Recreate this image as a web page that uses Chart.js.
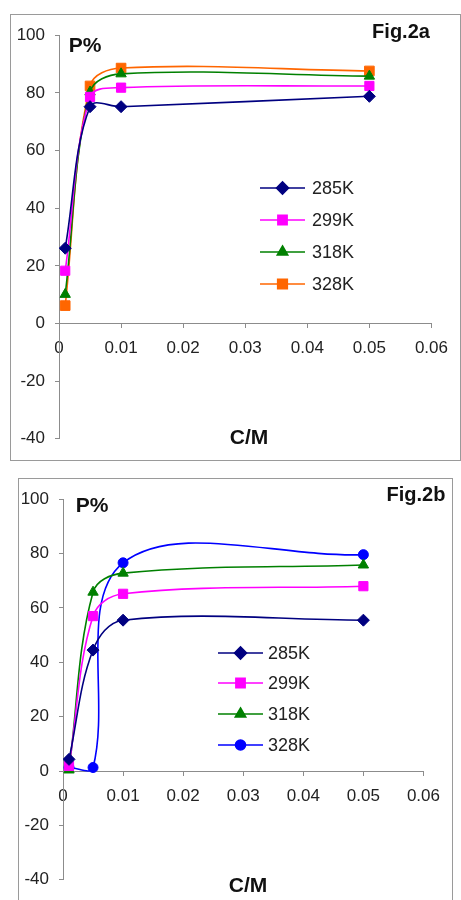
<!DOCTYPE html>
<html>
<head>
<meta charset="utf-8">
<script src="https://cdn.jsdelivr.net/npm/chart.js"></script>
<style>
  body { margin: 0; background: #fff; overflow: hidden; }
  .box { position: absolute; border: 1px solid #9a9a9a; box-sizing: border-box; }
  canvas { position: absolute; }
</style>
</head>
<body>
<div class="box" style="left:10px; top:14px; width:451px; height:447px;"></div>
<canvas id="fig2a" width="448" height="444" style="left:11px; top:15px;"></canvas>
<div class="box" style="left:18px; top:478px; width:435px; height:440px;"></div>
<canvas id="fig2b" width="432" height="421" style="left:19px; top:479px;"></canvas>
<script>
const concentrations = [0.001, 0.005, 0.01, 0.05];
const temperatures = ['285K', '299K', '318K', '328K'];
const xTicks = [0, 0.01, 0.02, 0.03, 0.04, 0.05, 0.06];
const yTicks = [-40, -20, 0, 20, 40, 60, 80, 100];

// Fig.2a
const fig2a285 = [26.1, 75.2, 75.2, 78.8];
const fig2a299 = [18.3, 78.6, 81.8, 82.4];
const fig2a318 = [10.1, 80.3, 86.6, 85.8];
const fig2a328 = [6.2, 82.4, 88.6, 87.6];

// Fig.2b
const fig2b285 = [4.3, 44.5, 55.5, 55.5];
const fig2b299 = [1.9, 57.0, 65.2, 68.0];
const fig2b318 = [0.4, 65.8, 72.8, 75.8];
const fig2b328 = [1.3, 1.3, 76.6, 79.6];

const fontName = "'Liberation Sans', Arial, sans-serif";

function points(values) {
    return values.map((v, i) => ({x: concentrations[i], y: v}));
}

function makeDataset(label, values, color, style, radius) {
    return {
        label: label,
        data: points(values),
        borderColor: color,
        backgroundColor: color,
        borderWidth: 1.6,
        pointStyle: style,
        pointRadius: radius,
        pointBorderWidth: 1,
        pointBorderColor: color,
        pointBackgroundColor: color,
        tension: 0.36,
        fill: false
    };
}

// draws the in-plot legend and the free text labels
function annotations(cfg) {
    return {
        id: 'annotations',
        afterDraw(chart) {
            const ctx = chart.ctx;
            ctx.save();
            ctx.fillStyle = '#111';
            ctx.textBaseline = 'middle';
            ctx.textAlign = 'center';
            ctx.font = 'bold 20px ' + fontName;
            ctx.fillText(cfg.fig, cfg.figPos[0], cfg.figPos[1]);
            ctx.font = 'bold 21px ' + fontName;
            ctx.fillText('P%', cfg.pPos[0], cfg.pPos[1]);
            ctx.fillText('C/M', cfg.cPos[0], cfg.cPos[1]);

            ctx.textAlign = 'left';
            ctx.font = '18px ' + fontName;
            chart.data.datasets.forEach((ds, i) => {
                const y = cfg.legendRows[i];
                ctx.strokeStyle = ds.borderColor;
                ctx.lineWidth = 1.6;
                ctx.beginPath();
                ctx.moveTo(cfg.legendX[0], y);
                ctx.lineTo(cfg.legendX[1], y);
                ctx.stroke();
                ctx.fillStyle = ds.borderColor;
                Chart.helpers.drawPoint(ctx, {
                    pointStyle: ds.pointStyle,
                    radius: ds.pointRadius,
                    borderWidth: 1,
                    rotation: 0
                }, (cfg.legendX[0] + cfg.legendX[1]) / 2, y);
                ctx.fillStyle = '#222';
                ctx.fillText(ds.label, cfg.legendX[2], y + 1);
            });
            ctx.restore();
        }
    };
}

function makeChart(canvasId, datasets, area, cfg) {
    const canvas = document.querySelector(canvasId);
    new Chart(canvas.getContext('2d'), {
        type: 'line',
        data: { datasets: datasets },
        options: {
            responsive: false,
            animation: false,
            layout: { padding: area.padding },
            plugins: { legend: { display: false }, tooltip: { enabled: false } },
            scales: {
                x: {
                    type: 'linear',
                    position: { y: 0 },
                    min: 0,
                    max: 0.06,
                    afterBuildTicks: scale => { scale.ticks = xTicks.map(v => ({value: v})); },
                    afterFit: scale => { scale.height = 0; },
                    grid: { drawOnChartArea: false, drawTicks: true, tickLength: 4, color: '#8c8c8c' },
                    border: { display: true, color: '#8c8c8c', width: 1 },
                    ticks: {
                        autoSkip: false,
                        maxRotation: 0,
                        padding: 11,
                        color: '#222',
                        font: { family: fontName, size: 17 },
                        callback: v => String(parseFloat(v.toFixed(2)))
                    }
                },
                y: {
                    position: 'left',
                    min: -40,
                    max: 100,
                    afterBuildTicks: scale => { scale.ticks = yTicks.map(v => ({value: v})); },
                    afterFit: scale => { scale.width = area.yWidth; },
                    grid: { drawOnChartArea: false, drawTicks: true, tickLength: 4, color: '#8c8c8c' },
                    border: { display: true, color: '#8c8c8c', width: 1 },
                    ticks: {
                        padding: 10,
                        color: '#222',
                        font: { family: fontName, size: 17 },
                        callback: v => String(v)
                    }
                }
            }
        },
        plugins: [annotations(cfg)]
    });
}

makeChart('#fig2a', [
    makeDataset(temperatures[0], fig2a285, '#000080', 'rectRot', 6),
    makeDataset(temperatures[1], fig2a299, '#ff00ff', 'rect', 6.5),
    makeDataset(temperatures[2], fig2a318, '#008000', 'triangle', 6),
    makeDataset(temperatures[3], fig2a328, '#ff6600', 'rect', 6.8)
], {
    yWidth: 48,
    padding: { left: 0, top: 14, right: 17, bottom: 19 }
}, {
    fig: 'Fig.2a',
    figPos: [390, 17],
    pPos: [74, 31],
    cPos: [238, 423],
    legendX: [249, 294, 301],
    legendRows: [173, 205, 237, 269]
});

makeChart('#fig2b', [
    makeDataset(temperatures[0], fig2b285, '#000080', 'rectRot', 6),
    makeDataset(temperatures[1], fig2b299, '#ff00ff', 'rect', 6.5),
    makeDataset(temperatures[2], fig2b318, '#008000', 'triangle', 6),
    makeDataset(temperatures[3], fig2b328, '#0000ff', 'circle', 5)
], {
    yWidth: 44,
    padding: { left: 0, top: 15, right: 19, bottom: 10 }
}, {
    fig: 'Fig.2b',
    figPos: [397, 16],
    pPos: [73, 27],
    cPos: [229, 407],
    legendX: [199, 244, 249],
    legendRows: [174, 204, 235, 266]
});
</script>
</body>
</html>
